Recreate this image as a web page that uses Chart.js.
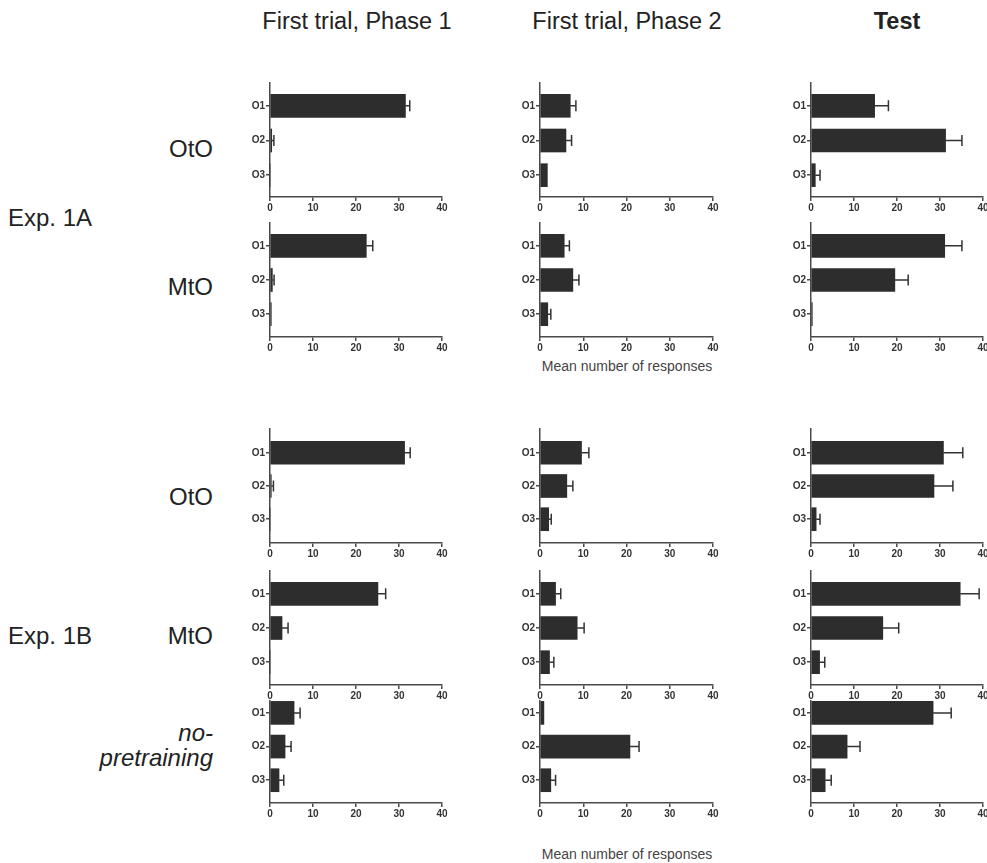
<!DOCTYPE html>
<html>
<head>
<meta charset="utf-8">
<script src="https://cdn.jsdelivr.net/npm/chart.js@4.4.1/dist/chart.umd.min.js"></script>
<style>
body { margin: 0; width: 987px; height: 863px; overflow: hidden; background: #fff; font-family: "Liberation Sans", Arial, sans-serif; color: #222; position: relative; }
.lbl { position: absolute; white-space: nowrap; line-height: 1; }
.ttl { font-size: 23.5px; transform: translateX(-50%); }
.grp { font-size: 24px; }
.axt { font-size: 14px; color: #444; transform: translateX(-50%); }
canvas { position: absolute; }
</style>
</head>
<body>
<div class="lbl ttl" style="left:357px; top:10px">First trial, Phase 1</div>
<div class="lbl ttl" style="left:627px; top:10px">First trial, Phase 2</div>
<div class="lbl ttl" style="left:897px; top:10px; font-weight:bold">Test</div>

<div class="lbl grp" style="left:8px; top:206px">Exp. 1A</div>
<div class="lbl grp" style="right:774px; top:137px">OtO</div>
<div class="lbl grp" style="right:774px; top:275px">MtO</div>

<div class="lbl grp" style="left:8px; top:624px">Exp. 1B</div>
<div class="lbl grp" style="right:774px; top:485px">OtO</div>
<div class="lbl grp" style="right:774px; top:624px">MtO</div>
<div class="lbl grp" style="right:774px; top:721px; font-style:italic">no-</div>
<div class="lbl grp" style="right:774px; top:746px; font-style:italic">pretraining</div>

<div class="lbl axt" style="left:627px; top:359px">Mean number of responses</div>
<div class="lbl axt" style="left:627px; top:847px">Mean number of responses</div>

<script>
// outcome categories and x ticks
const categories = ['O1', 'O2', 'O3'];
const xTicks = [0, 10, 20, 30, 40];

// Exp. 1A, OtO
const a_oto_p1 = [31.5, 0.4, 0];     const a_oto_p1_err = [1.0, 0.5, 0];
const a_oto_p2 = [7.0, 6.0, 1.7];    const a_oto_p2_err = [1.3, 1.3, 0];
const a_oto_test = [14.8, 31.3, 1.0]; const a_oto_test_err = [3.2, 3.8, 1.1];
// Exp. 1A, MtO
const a_mto_p1 = [22.4, 0.55, 0.3];  const a_mto_p1_err = [1.5, 0.4, 0];
const a_mto_p2 = [5.6, 7.6, 1.8];    const a_mto_p2_err = [1.2, 1.4, 0.7];
const a_mto_test = [31.1, 19.5, 0.3]; const a_mto_test_err = [4.0, 3.1, 0];
// Exp. 1B, OtO
const b_oto_p1 = [31.3, 0.3, 0];     const b_oto_p1_err = [1.3, 0.5, 0];
const b_oto_p2 = [9.6, 6.2, 2.0];    const b_oto_p2_err = [1.7, 1.4, 0.6];
const b_oto_test = [30.8, 28.6, 1.2]; const b_oto_test_err = [4.5, 4.4, 0.9];
// Exp. 1B, MtO
const b_mto_p1 = [25.1, 2.8, 0];     const b_mto_p1_err = [1.8, 1.4, 0];
const b_mto_p2 = [3.6, 8.6, 2.2];    const b_mto_p2_err = [1.2, 1.6, 1.0];
const b_mto_test = [34.7, 16.7, 2.0]; const b_mto_test_err = [4.4, 3.7, 1.2];
// Exp. 1B, no-pretraining
const b_nop_p1 = [5.6, 3.5, 2.1];    const b_nop_p1_err = [1.4, 1.4, 1.1];
const b_nop_p2 = [0.9, 20.8, 2.5];   const b_nop_p2_err = [0, 2.1, 1.1];
const b_nop_test = [28.4, 8.4, 3.3]; const b_nop_test_err = [4.2, 3.0, 1.4];

const panels = [
  [[a_oto_p1, a_oto_p1_err], [a_oto_p2, a_oto_p2_err], [a_oto_test, a_oto_test_err]],
  [[a_mto_p1, a_mto_p1_err], [a_mto_p2, a_mto_p2_err], [a_mto_test, a_mto_test_err]],
  [[b_oto_p1, b_oto_p1_err], [b_oto_p2, b_oto_p2_err], [b_oto_test, b_oto_test_err]],
  [[b_mto_p1, b_mto_p1_err], [b_mto_p2, b_mto_p2_err], [b_mto_test, b_mto_test_err]],
  [[b_nop_p1, b_nop_p1_err], [b_nop_p2, b_nop_p2_err], [b_nop_test, b_nop_test_err]]
];

// page geometry of every plot area
const colLeft = [270, 540, 811];
const colWidth = [172, 173, 172];
const rowTop = [82, 222, 428, 570, 700];
const rowBottom = [197, 337, 543, 685, 803];
const rowO1 = [105, 245, 452, 593, 712];
const rowO3 = [175, 314, 519, 662, 780];

const AXIS_W = 30, XAXIS_H = 22, PAD_TOP = 6, PAD_RIGHT = 12;
const ink = '#4a4a4a';
const tickFont = { family: 'Liberation Sans', size: 10, weight: 'bold' };

const errorBars = {
  id: 'errorBars',
  afterDatasetsDraw(chart) {
    const ctx = chart.ctx;
    const xs = chart.scales.x;
    const ds = chart.data.datasets[0];
    const meta = chart.getDatasetMeta(0);
    ctx.save();
    ctx.strokeStyle = '#333';
    ctx.lineWidth = 1.5;
    meta.data.forEach(function (bar, i) {
      const e = ds.errors[i];
      if (!e) return;
      const v = ds.data[i].x;
      const x0 = xs.getPixelForValue(v);
      const x1 = xs.getPixelForValue(v + e);
      ctx.beginPath();
      ctx.moveTo(x0, bar.y);
      ctx.lineTo(x1, bar.y);
      ctx.moveTo(x1, bar.y - 5.5);
      ctx.lineTo(x1, bar.y + 5.5);
      ctx.stroke();
    });
    ctx.restore();
  }
};

for (let r = 0; r < panels.length; r++) {
  for (let c = 0; c < 3; c++) {
    const means = panels[r][c][0];
    const errs = panels[r][c][1];
    const plotH = rowBottom[r] - rowTop[r];
    const unit = (rowO3[r] - rowO1[r]) / 2;
    const yMin = -(rowO1[r] - rowTop[r]) / unit;
    const yMax = 2 + (rowBottom[r] - rowO3[r]) / unit;

    const cv = document.createElement('canvas');
    const w = AXIS_W + colWidth[c] + PAD_RIGHT;
    const h = PAD_TOP + plotH + XAXIS_H;
    cv.width = w; cv.height = h;
    cv.style.left = (colLeft[c] - AXIS_W) + 'px';
    cv.style.top = (rowTop[r] - PAD_TOP) + 'px';
    cv.style.width = w + 'px'; cv.style.height = h + 'px';
    document.body.appendChild(cv);

    new Chart(cv, {
      type: 'bar',
      data: {
        datasets: [{
          data: means.map(function (v, i) { return { x: v, y: i }; }),
          errors: errs,
          backgroundColor: '#2d2d2d',
          borderWidth: 0,
          barThickness: 23,
          clip: 8
        }]
      },
      options: {
        indexAxis: 'y',
        responsive: false,
        animation: false,
        devicePixelRatio: 1,
        layout: { padding: { top: PAD_TOP, right: PAD_RIGHT, left: 0, bottom: 0 } },
        plugins: { legend: { display: false }, tooltip: { enabled: false } },
        scales: {
          x: {
            type: 'linear',
            min: 0, max: 40,
            afterBuildTicks: function (s) { s.ticks = xTicks.map(function (v) { return { value: v }; }); },
            afterFit: function (s) { s.height = XAXIS_H; },
            border: { color: ink, width: 1.5 },
            grid: { drawOnChartArea: false, drawTicks: true, tickLength: 4, color: ink, lineWidth: 1.5 },
            ticks: { padding: 1, color: '#333', font: tickFont, maxRotation: 0 }
          },
          y: {
            type: 'linear',
            offset: false,
            reverse: true,
            min: yMin, max: yMax,
            afterBuildTicks: function (s) { s.ticks = categories.map(function (n, i) { return { value: i }; }); },
            afterFit: function (s) { s.width = AXIS_W; },
            border: { color: ink, width: 1.5 },
            grid: { offset: false, drawOnChartArea: false, drawTicks: true, tickLength: 4, color: ink, lineWidth: 1.5 },
            ticks: {
              padding: 1, color: '#333', font: tickFont,
              callback: function (v) { return categories[v]; }
            }
          }
        }
      },
      plugins: [errorBars]
    });
  }
}
</script>
</body>
</html>
